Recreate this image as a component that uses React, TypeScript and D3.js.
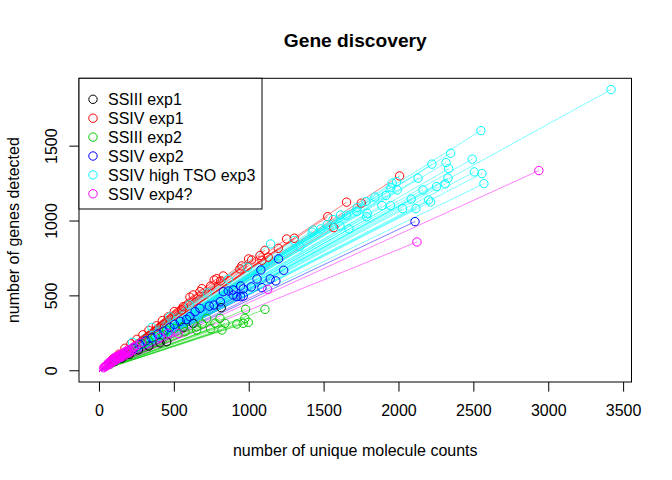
import React from 'react';
import * as d3 from 'd3';

// endpoints of each sample's discovery curve: [unique molecule counts, genes detected]
const ssiiiExp1: [number, number][] = [
  [813, 421], [626, 317], [560, 290], [449, 194], [404, 187], [330, 165],
  [260, 140], [200, 110], [150, 85], [100, 60],
];

const ssivExp1: [number, number][] = [
  [2004, 1301], [1650, 1126], [1748, 1119], [1524, 1029], [1564, 956],
  [1250, 880], [1301, 885], [1194, 818], [1105, 804], [1072, 770],
  [1085, 738], [1127, 758], [996, 747], [1016, 740], [951, 700], [938, 680],
  [827, 633], [783, 615], [766, 606], [809, 600], [742, 566], [684, 548],
  [671, 528], [626, 506], [604, 491], [560, 428], [549, 406], [500, 395],
  [460, 360], [420, 335], [380, 300], [330, 270], [290, 240], [250, 210],
  [210, 180], [170, 150], [130, 110], [90, 80],
];

const ssiiiExp2: [number, number][] = [
  [1105, 410], [976, 410], [994, 323], [971, 350], [960, 317], [918, 312],
  [838, 317], [771, 317], [805, 350], [818, 272], [742, 281], [716, 350],
  [686, 312], [649, 272], [649, 294], [571, 261], [560, 294], [499, 283],
  [449, 272], [426, 239], [371, 227], [330, 200], [290, 180], [250, 160],
  [210, 140], [180, 120], [150, 100], [120, 80], [95, 60], [75, 45],
];

const ssivExp2: [number, number][] = [
  [2107, 996], [1196, 747], [1230, 671], [1078, 673], [1052, 613],
  [1140, 613], [1178, 600], [1014, 560], [1085, 555], [943, 566], [960, 546],
  [893, 539], [860, 533], [827, 528], [960, 499], [943, 495], [893, 506],
  [918, 495], [807, 461], [765, 439], [733, 432], [671, 417], [638, 394],
  [604, 361], [582, 343], [540, 330], [500, 310], [470, 290], [430, 265],
  [390, 245], [350, 220], [310, 200], [270, 175], [230, 150], [190, 125],
  [150, 100], [120, 80],
];

const ssivHighTsoExp3: [number, number][] = [
  [3416, 1878], [2547, 1604], [2345, 1453], [2220, 1380], [2314, 1390],
  [2489, 1413], [2332, 1350], [2127, 1286], [2503, 1328], [2554, 1317],
  [2327, 1286], [2309, 1248], [2251, 1230], [2160, 1208], [2567, 1250],
  [1913, 1170], [2082, 1146], [2198, 1141], [2211, 1127], [1886, 1103],
  [1944, 1103], [2024, 1083], [2113, 1083], [1946, 1223], [1988, 1208],
  [1955, 1253], [1984, 1263], [1719, 1063], [1788, 1052], [1784, 1029],
  [1650, 1039], [1666, 947], [1606, 967], [1477, 947], [1428, 940],
  [1143, 847], [1339, 829], [1840, 1160], [1780, 1130], [1720, 1090],
  [1610, 1040], [1560, 1010], [1520, 975], [1420, 925], [1300, 870],
  [990, 690], [860, 610], [720, 520], [600, 440], [470, 360], [350, 290],
  [220, 190],
];

const ssivExp4: [number, number][] = [
  [2934, 1337], [2120, 860], [1123, 544], [526, 250], [459, 250], [404, 222],
  [282, 190], [250, 170], [225, 155], [205, 140], [185, 128], [165, 112],
  [150, 100], [135, 95], [120, 82], [105, 75], [92, 66], [80, 58], [68, 50],
  [56, 42], [45, 34], [35, 26], [28, 20], [112, 90], [140, 106], [172, 122],
  [195, 118], [215, 132], [235, 160], [98, 86], [60, 52], [72, 62],
  [86, 70], [100, 80], [115, 95], [128, 100], [145, 110], [160, 120],
  [178, 130], [190, 140], [130, 88], [110, 70], [85, 55], [65, 40],
  [50, 38], [40, 30], [155, 98], [175, 110], [200, 125], [145, 90],
];

const seriesNames = [
  'SSIII exp1', 'SSIV exp1', 'SSIII exp2', 'SSIV exp2', 'SSIV high TSO exp3', 'SSIV exp4?',
];
const seriesColors = ['#000000', '#FF0000', '#00CD00', '#0000FF', '#00FFFF', '#FF00FF'];
const seriesData = [ssiiiExp1, ssivExp1, ssiiiExp2, ssivExp2, ssivHighTsoExp3, ssivExp4];

const xTicks = [0, 500, 1000, 1500, 2000, 2500, 3000, 3500];
const yTicks = [0, 500, 1000, 1500];

const W = 672;
const H = 480;
const left = 79;
const right = 631.5;
const top = 78.3;
const bottom = 382;
const font = '"Liberation Sans", Arial, Helvetica, sans-serif';

const App = () => {
  const all = seriesData.flat();
  const xMax = d3.max(all, d => d[0]) as number;
  const yMax = d3.max(all, d => d[1]) as number;

  // R style 4% padding on both ends
  const x = d3.scaleLinear().domain([-0.04 * xMax, 1.04 * xMax]).range([left, right]);
  const y = d3.scaleLinear().domain([-0.04 * yMax, 1.04 * yMax]).range([bottom, top]);

  const line = d3.line<[number, number]>().x(d => x(d[0])).y(d => y(d[1]));

  return (
    <svg width={W} height={H} style={{ position: 'absolute', left: 0, top: 0, background: '#fff' }}
      fontFamily={font}>
      <rect x={0} y={0} width={W} height={H} fill="#fff" />
      <text x={(left + right) / 2} y={47} textAnchor="middle" fontSize={19.2} fontWeight="bold">
        Gene discovery
      </text>

      {/* curves first, then the end points on top */}
      {seriesData.map((pts, gi) => (
        <g key={'lines' + gi}>
          {pts.map((p, i) => (
            <path key={i} d={line([[0, 0], p]) || ''} fill="none"
              stroke={seriesColors[gi]} strokeOpacity={0.5} strokeWidth={1} />
          ))}
        </g>
      ))}
      {seriesData.map((pts, gi) => (
        <g key={'pts' + gi}>
          {pts.map((p, i) => (
            <circle key={i} cx={x(p[0])} cy={y(p[1])} r={4.2} fill="none"
              stroke={seriesColors[gi]} strokeWidth={1} />
          ))}
        </g>
      ))}

      <rect x={left} y={top} width={right - left} height={bottom - top} fill="none" stroke="#000" strokeWidth={1} />

      {xTicks.map(t => (
        <g key={'x' + t}>
          <line x1={x(t)} x2={x(t)} y1={bottom} y2={bottom + 9.6} stroke="#000" />
          <text x={x(t)} y={416} textAnchor="middle" fontSize={16}>{t}</text>
        </g>
      ))}
      {yTicks.map(t => (
        <g key={'y' + t}>
          <line x1={left} x2={left - 9.6} y1={y(t)} y2={y(t)} stroke="#000" />
          <text transform={`translate(57,${y(t)}) rotate(-90)`} textAnchor="middle" fontSize={16}>{t}</text>
        </g>
      ))}

      <text x={(left + right) / 2} y={456} textAnchor="middle" fontSize={16}>
        number of unique molecule counts
      </text>
      <text transform={`translate(19,${(top + bottom) / 2}) rotate(-90)`} textAnchor="middle" fontSize={16}>
        number of genes detected
      </text>

      <g>
        <rect x={left} y={top} width={183} height={130.7} fill="#fff" stroke="#000" strokeWidth={1} />
        {seriesNames.map((name, i) => (
          <g key={name}>
            <circle cx={93} cy={99.3 + i * 18.9} r={4.2} fill="none" stroke={seriesColors[i]} strokeWidth={1} />
            <text x={108} y={99.3 + i * 18.9 + 5.7} fontSize={16}>{name}</text>
          </g>
        ))}
      </g>
    </svg>
  );
};

export default App;
